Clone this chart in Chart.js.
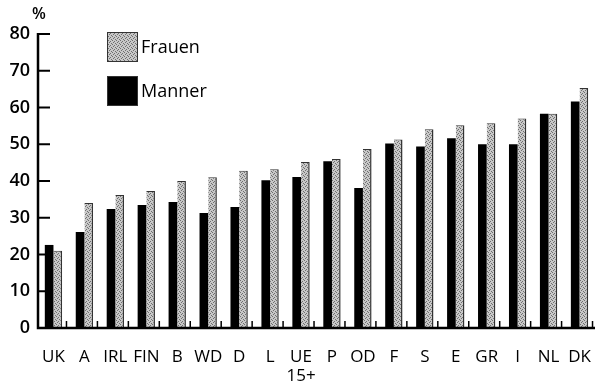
<!DOCTYPE html>
<html>
<head>
<meta charset="utf-8">
<script src="https://cdn.jsdelivr.net/npm/chart.js@4/dist/chart.umd.min.js"></script>
<style>
  html, body { margin: 0; padding: 0; background: #fff; }
  #wrap { position: relative; width: 595px; height: 384px; }
</style>
</head>
<body>
<div id="wrap"><canvas id="chart" width="595" height="384"></canvas></div>
<script>
const categories = ["UK", "A", "IRL", "FIN", "B", "WD", "D", "L", ["UE", "15+"], "P", "OD", "F", "S", "E", "GR", "I", "NL", "DK"];
const manner = [22.6, 26.1, 32.4, 33.5, 34.3, 31.3, 32.9, 40.2, 41.1, 45.4, 38.1, 50.2, 49.4, 51.6, 50.0, 50.0, 58.3, 61.6];
const frauen = [21.0, 34.0, 36.2, 37.3, 40.0, 41.0, 42.8, 43.2, 45.2, 46.0, 48.7, 51.3, 54.1, 55.2, 55.7, 57.0, 58.3, 65.3];
const yTicks = [0, 10, 20, 30, 40, 50, 60, 70, 80];

const FONT = "'Open Sans', 'DejaVu Sans', sans-serif";

// stippled grey fill for the Frauen bars
function stipple() {
  const c = document.createElement("canvas");
  c.width = 4; c.height = 4;
  const g = c.getContext("2d");
  g.fillStyle = "#c8c8c8";
  g.fillRect(0, 0, 4, 4);
  g.fillStyle = "#6f6f6f";
  [[0, 0], [2, 1], [1, 2], [3, 3]].forEach(p => g.fillRect(p[0], p[1], 1, 1));
  return g.createPattern(c, "repeat");
}
const grey = stipple();

// axes drawn by hand: inward ticks on y, small upward ticks between groups on x
const axesPlugin = {
  id: "axesPlugin",
  afterDatasetsDraw(chart) {
    const { ctx, chartArea: a, scales: { x, y } } = chart;
    ctx.save();
    ctx.strokeStyle = "#000";
    ctx.lineWidth = 2.5;
    ctx.beginPath();
    ctx.moveTo(a.left, y.getPixelForValue(80) - 1);
    ctx.lineTo(a.left, a.bottom);
    ctx.lineTo(a.right, a.bottom);
    ctx.stroke();
    ctx.lineWidth = 2;
    yTicks.forEach(v => {
      const py = y.getPixelForValue(v);
      ctx.beginPath();
      ctx.moveTo(a.left, py);
      ctx.lineTo(a.left + 12, py);
      ctx.stroke();
    });
    ctx.lineWidth = 1.5;
    for (let i = 0; i < categories.length; i++) {
      const px = x.getPixelForValue(i) + 13;
      ctx.beginPath();
      ctx.moveTo(px, a.bottom);
      ctx.lineTo(px, a.bottom - 7);
      ctx.stroke();
    }
    // % label
    ctx.fillStyle = "#000";
    ctx.font = "600 16px " + FONT;
    ctx.textAlign = "center";
    ctx.textBaseline = "middle";
    ctx.fillText("%", 39, 14);
    // legend
    const items = [
      { label: chart.data.datasets[1].label, fill: grey, y: 32 },
      { label: chart.data.datasets[0].label, fill: "#000", y: 76 }
    ];
    items.forEach(it => {
      ctx.fillStyle = it.fill;
      ctx.fillRect(107, it.y, 31, 30);
      ctx.lineWidth = 1;
      ctx.strokeStyle = "#333";
      ctx.strokeRect(107.5, it.y + 0.5, 30, 29);
      ctx.fillStyle = "#000";
      ctx.font = "18px " + FONT;
      ctx.textAlign = "left";
      ctx.fillText(it.label, 141, it.y + 16);
    });
    ctx.restore();
  }
};

const ctx = document.getElementById("chart").getContext("2d");
const chart = new Chart(ctx, {
  type: "bar",
  data: {
    labels: categories,
    datasets: [
      {
        label: "Manner",
        data: manner,
        backgroundColor: "#000",
        borderWidth: 0,
        categoryPercentage: 0.56,
        barPercentage: 1.0
      },
      {
        label: "Frauen",
        data: frauen,
        backgroundColor: grey,
        borderColor: "#333",
        borderWidth: { left: 0, top: 1, right: 1.5, bottom: 0 },
        borderSkipped: "bottom",
        categoryPercentage: 0.56,
        barPercentage: 1.0
      }
    ]
  },
  options: {
    responsive: false,
    animation: false,
    layout: { padding: { top: 34, right: 0, left: 0, bottom: 0 } },
    plugins: {
      legend: { display: false },
      tooltip: { enabled: false }
    },
    scales: {
      x: {
        grid: { display: false, drawTicks: false },
        border: { display: false },
        ticks: {
          color: "#000",
          font: { family: FONT, size: 17, lineHeight: 1.1 },
          padding: 20,
          maxRotation: 0,
          autoSkip: false
        },
        afterFit(s) { s.height = 56; s.paddingLeft = 0; s.paddingRight = 0; }
      },
      y: {
        min: 0,
        max: 80,
        grid: { display: false, drawTicks: false },
        border: { display: false },
        ticks: {
          stepSize: 10,
          color: "#000",
          font: { family: FONT, size: 18, weight: "600" },
          padding: 8
        },
        afterFit(s) { s.width = 38; }
      }
    }
  },
  plugins: [axesPlugin]
});
</script>
</body>
</html>
